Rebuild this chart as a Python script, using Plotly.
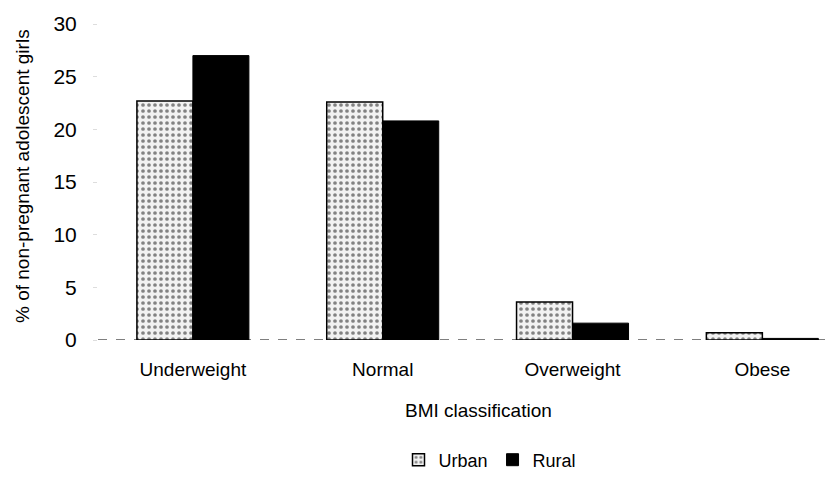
import plotly.graph_objects as go

categories = ["Underweight", "Normal", "Overweight", "Obese"]
urban = [22.7, 22.6, 3.6, 0.7]
rural = [27.0, 20.8, 1.6, 0.15]
y_ticks = [0, 5, 10, 15, 20, 25, 30]

FONT = "Liberation Sans, Arial, sans-serif"

fig = go.Figure()
fig.add_trace(go.Bar(
    name="Urban", x=categories, y=urban,
    marker=dict(color="white", line=dict(color="black", width=1.5),
                pattern=dict(shape=".", fgcolor="#111111", bgcolor="#f2f2f2",
                             size=6, solidity=0.3, fillmode="overlay")),
))
fig.add_trace(go.Bar(
    name="Rural", x=categories, y=rural,
    marker=dict(color="black", line=dict(color="black", width=1)),
))

fig.add_shape(type="line", xref="paper", yref="y", x0=0, x1=1, y0=0, y1=0,
              line=dict(color="#555555", width=1.5, dash="dash"), layer="below")

fig.add_annotation(text="BMI classification", xref="paper", yref="paper",
                   x=(478 - 98) / 727, y=-70 / 316, xanchor="center", yanchor="middle",
                   showarrow=False, font=dict(size=19))
fig.add_annotation(text="% of non-pregnant adolescent girls", xref="paper", yref="paper",
                   x=(22 - 98) / 727, y=(340 - 176) / 316, xanchor="center", yanchor="middle",
                   textangle=-90, showarrow=False, font=dict(size=19))

fig.update_layout(
    width=832, height=488,
    margin=dict(l=98, r=7, t=24, b=148, autoexpand=False),
    paper_bgcolor="white", plot_bgcolor="white",
    barmode="group", bargap=0.41, bargroupgap=0,
    font=dict(family=FONT, size=19, color="black"),
    showlegend=True,
    legend=dict(orientation="h", x=(490 - 98) / 727, xanchor="center",
                y=-120 / 316, yanchor="middle", font=dict(size=18),
                itemwidth=30, tracegroupgap=0),
    xaxis=dict(range=[-0.5, 3.33], showline=False, ticks="", showgrid=False,
               tickfont=dict(size=19), tickangle=0, automargin=False,
               ticklabelstandoff=16),
    yaxis=dict(range=[0, 30], tickvals=y_ticks, showgrid=False, zeroline=False,
               showline=False, ticks="outside", ticklen=4, tickcolor="#dddddd",
               tickfont=dict(size=21), ticklabelstandoff=12, automargin=False),
)

fig.write_html("out.html")
